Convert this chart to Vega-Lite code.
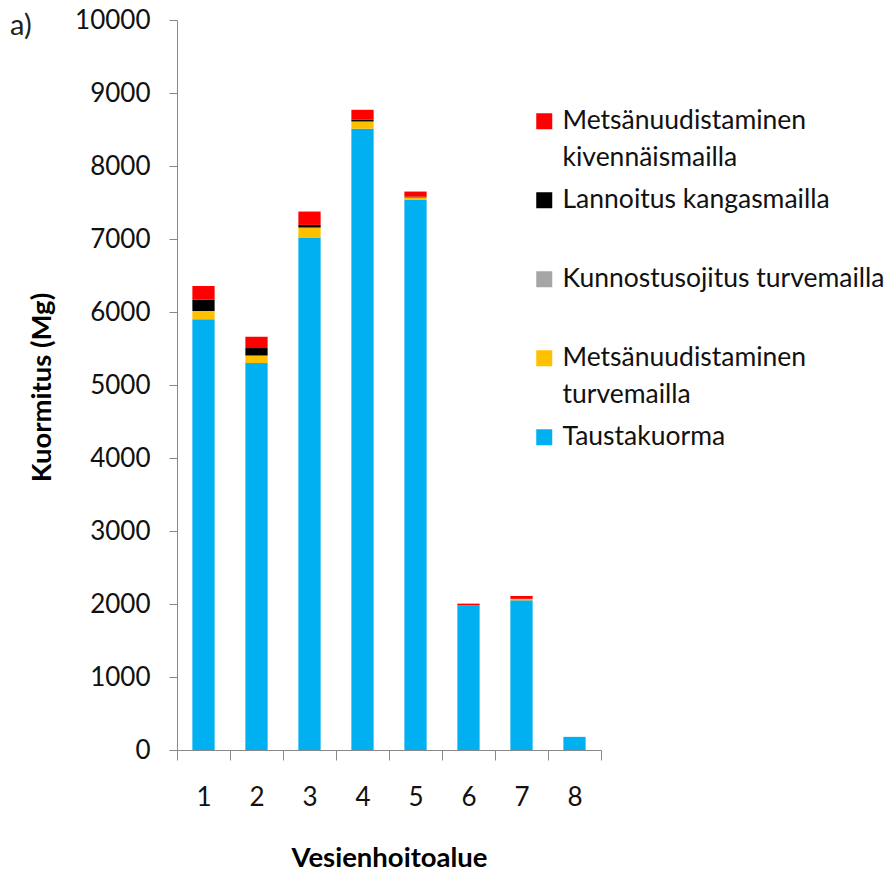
{
  "$schema": "https://vega.github.io/schema/vega-lite/v6.json",
  "width": 424,
  "height": 730,
  "autosize": "none",
  "padding": {"left": 177, "top": 20, "right": 288, "bottom": 121},
  "background": "white",
  "title": {"text": "a)", "anchor": "start", "frame": "group", "orient": "top", "baseline": "top", "offset": 0, "dx": -167, "dy": 34, "font": "Lato", "fontSize": 29, "fontWeight": "normal", "color": "#222"},
  "data": {
    "values": [
      {"alue": "1", "luokka": "Taustakuorma", "jarjestys": 1, "arvo": 5900},
      {"alue": "1", "luokka": "Metsänuudistaminen turvemailla", "jarjestys": 2, "arvo": 114},
      {"alue": "1", "luokka": "Kunnostusojitus turvemailla", "jarjestys": 3, "arvo": 0},
      {"alue": "1", "luokka": "Lannoitus kangasmailla", "jarjestys": 4, "arvo": 154},
      {"alue": "1", "luokka": "Metsänuudistaminen kivennäismailla", "jarjestys": 5, "arvo": 188},
      {"alue": "2", "luokka": "Taustakuorma", "jarjestys": 1, "arvo": 5300},
      {"alue": "2", "luokka": "Metsänuudistaminen turvemailla", "jarjestys": 2, "arvo": 104},
      {"alue": "2", "luokka": "Kunnostusojitus turvemailla", "jarjestys": 3, "arvo": 0},
      {"alue": "2", "luokka": "Lannoitus kangasmailla", "jarjestys": 4, "arvo": 102},
      {"alue": "2", "luokka": "Metsänuudistaminen kivennäismailla", "jarjestys": 5, "arvo": 155},
      {"alue": "3", "luokka": "Taustakuorma", "jarjestys": 1, "arvo": 7020},
      {"alue": "3", "luokka": "Metsänuudistaminen turvemailla", "jarjestys": 2, "arvo": 137},
      {"alue": "3", "luokka": "Kunnostusojitus turvemailla", "jarjestys": 3, "arvo": 0},
      {"alue": "3", "luokka": "Lannoitus kangasmailla", "jarjestys": 4, "arvo": 36},
      {"alue": "3", "luokka": "Metsänuudistaminen kivennäismailla", "jarjestys": 5, "arvo": 183},
      {"alue": "4", "luokka": "Taustakuorma", "jarjestys": 1, "arvo": 8510},
      {"alue": "4", "luokka": "Metsänuudistaminen turvemailla", "jarjestys": 2, "arvo": 100},
      {"alue": "4", "luokka": "Kunnostusojitus turvemailla", "jarjestys": 3, "arvo": 0},
      {"alue": "4", "luokka": "Lannoitus kangasmailla", "jarjestys": 4, "arvo": 23},
      {"alue": "4", "luokka": "Metsänuudistaminen kivennäismailla", "jarjestys": 5, "arvo": 137},
      {"alue": "5", "luokka": "Taustakuorma", "jarjestys": 1, "arvo": 7540},
      {"alue": "5", "luokka": "Metsänuudistaminen turvemailla", "jarjestys": 2, "arvo": 30},
      {"alue": "5", "luokka": "Kunnostusojitus turvemailla", "jarjestys": 3, "arvo": 0},
      {"alue": "5", "luokka": "Lannoitus kangasmailla", "jarjestys": 4, "arvo": 10},
      {"alue": "5", "luokka": "Metsänuudistaminen kivennäismailla", "jarjestys": 5, "arvo": 70},
      {"alue": "6", "luokka": "Taustakuorma", "jarjestys": 1, "arvo": 1980},
      {"alue": "6", "luokka": "Metsänuudistaminen turvemailla", "jarjestys": 2, "arvo": 0},
      {"alue": "6", "luokka": "Kunnostusojitus turvemailla", "jarjestys": 3, "arvo": 0},
      {"alue": "6", "luokka": "Lannoitus kangasmailla", "jarjestys": 4, "arvo": 0},
      {"alue": "6", "luokka": "Metsänuudistaminen kivennäismailla", "jarjestys": 5, "arvo": 25},
      {"alue": "7", "luokka": "Taustakuorma", "jarjestys": 1, "arvo": 2050},
      {"alue": "7", "luokka": "Metsänuudistaminen turvemailla", "jarjestys": 2, "arvo": 20},
      {"alue": "7", "luokka": "Kunnostusojitus turvemailla", "jarjestys": 3, "arvo": 0},
      {"alue": "7", "luokka": "Lannoitus kangasmailla", "jarjestys": 4, "arvo": 0},
      {"alue": "7", "luokka": "Metsänuudistaminen kivennäismailla", "jarjestys": 5, "arvo": 40},
      {"alue": "8", "luokka": "Taustakuorma", "jarjestys": 1, "arvo": 180},
      {"alue": "8", "luokka": "Metsänuudistaminen turvemailla", "jarjestys": 2, "arvo": 0},
      {"alue": "8", "luokka": "Kunnostusojitus turvemailla", "jarjestys": 3, "arvo": 0},
      {"alue": "8", "luokka": "Lannoitus kangasmailla", "jarjestys": 4, "arvo": 0},
      {"alue": "8", "luokka": "Metsänuudistaminen kivennäismailla", "jarjestys": 5, "arvo": 0}
    ]
  },
  "mark": {"type": "bar", "width": {"band": 0.42}},
  "encoding": {
    "x": {
      "field": "alue", "type": "ordinal",
      "scale": {"paddingInner": 0, "paddingOuter": 0},
      "axis": {
        "title": "Vesienhoitoalue", "labelAngle": 0, "tickBand": "extent",
        "tickSize": 10, "labelPadding": 24, "titleY": 108, "titleBaseline": "middle"
      }
    },
    "y": {
      "field": "arvo", "type": "quantitative", "stack": "zero",
      "scale": {"domain": [0, 10000], "nice": false},
      "axis": {
        "title": "Kuormitus (Mg)", "values": [0,1000,2000,3000,4000,5000,6000,7000,8000,9000,10000],
        "format": "d", "tickSize": 8, "labelPadding": 19,
        "titleX": -135, "titleY": 367, "titleAngle": 270, "titleAlign": "center", "titleBaseline": "middle"
      }
    },
    "color": {
      "field": "luokka", "type": "nominal",
      "scale": {
        "domain": ["Metsänuudistaminen kivennäismailla", "Lannoitus kangasmailla", "Kunnostusojitus turvemailla", "Metsänuudistaminen turvemailla", "Taustakuorma"],
        "range": ["#FF0000", "#000000", "#A6A6A6", "#FFC000", "#00B0F0"]
      },
      "legend": {
        "title": null, "orient": "none", "legendX": 354, "legendY": 88,
        "symbolType": "square", "symbolSize": 256, "symbolStrokeWidth": 0, "symbolOpacity": 1,
        "labelOffset": 5, "labelLimit": 400, "rowPadding": 15, "padding": 0,
        "labelExpr": "datum.label == 'Metsänuudistaminen kivennäismailla' ? ['Metsänuudistaminen', 'kivennäismailla'] : datum.label == 'Metsänuudistaminen turvemailla' ? ['Metsänuudistaminen', 'turvemailla'] : [datum.label, '']"
      }
    },
    "order": {"field": "jarjestys", "type": "quantitative"}
  },
  "config": {
    "view": {"stroke": null},
    "font": "Lato",
    "axis": {
      "grid": false, "domainColor": "#888888", "tickColor": "#888888",
      "labelFont": "Lato", "labelFontSize": 26, "labelColor": "#111",
      "titleFont": "Lato", "titleFontSize": 27.5, "titleFontWeight": "bold", "titleColor": "#000"
    },
    "legend": {"labelFont": "Lato", "labelFontSize": 26.5, "labelColor": "#111"},
    "style": {"guide-label": {"lineHeight": 37}}
  }
}
